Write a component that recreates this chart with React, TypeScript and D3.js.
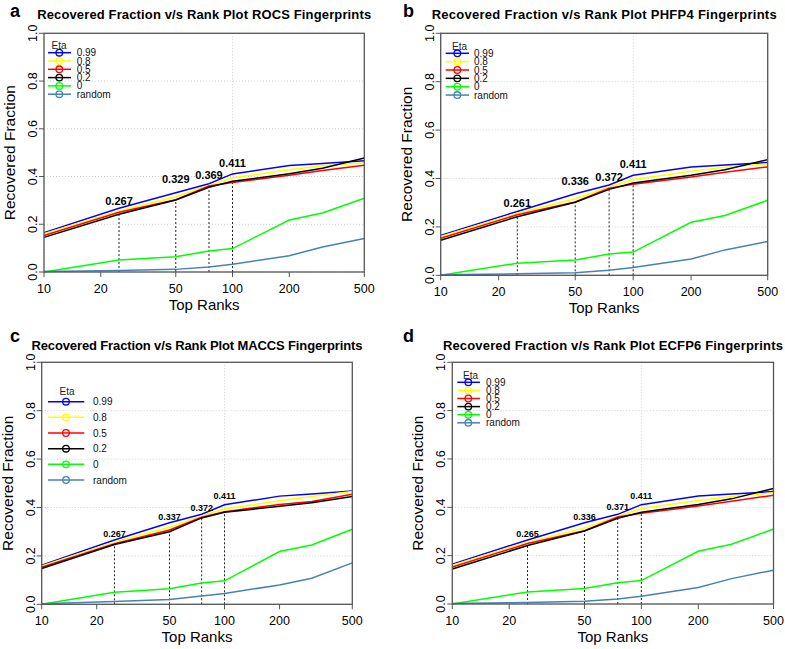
import React from "react";
import * as d3 from "d3";

const ranks = [10, 25, 50, 75, 100, 200, 300, 500];
const etaLabels = ["0.99", "0.8", "0.5", "0.2", "0", "random"];
const etaColors = ["#0000FF", "#FFFF00", "#FF0000", "#000000", "#00FF00", "#4682B4"];
const xTicks = [10, 20, 50, 100, 200, 500];
const yTicks = [0, 0.2, 0.4, 0.6, 0.8, 1.0];
const xGrid = [10, 100];
const markRanks = [25, 50, 75, 100];

// ROCS
const rocsSeries = [
  [0.165, 0.267, 0.332, 0.37, 0.411, 0.446, 0.455, 0.466],
  [0.16, 0.256, 0.315, 0.363, 0.395, 0.428, 0.445, 0.458],
  [0.153, 0.25, 0.303, 0.36, 0.375, 0.405, 0.425, 0.447],
  [0.145, 0.242, 0.302, 0.355, 0.38, 0.412, 0.435, 0.478],
  [0.0, 0.05, 0.064, 0.088, 0.098, 0.218, 0.247, 0.309],
  [0.002, 0.006, 0.011, 0.021, 0.032, 0.068, 0.105, 0.14],
];
const rocsMarks = ["0.267", "0.329", "0.369", "0.411"];
const rocsMarkY = [0.297, 0.387, 0.406, 0.456];

// PHFP4
const phfpSeries = [
  [0.165, 0.264, 0.337, 0.373, 0.413, 0.448, 0.456, 0.466],
  [0.16, 0.256, 0.316, 0.365, 0.396, 0.43, 0.447, 0.46],
  [0.153, 0.25, 0.303, 0.36, 0.376, 0.406, 0.426, 0.448],
  [0.145, 0.242, 0.302, 0.355, 0.381, 0.413, 0.436, 0.478],
  [0.0, 0.05, 0.063, 0.088, 0.096, 0.219, 0.247, 0.31],
  [0.002, 0.006, 0.011, 0.021, 0.032, 0.067, 0.105, 0.14],
];
const phfpMarks = ["0.261", "0.336", "0.372", "0.411"];
const phfpMarkY = [0.298, 0.39, 0.407, 0.46];

// MACCS
const maccsSeries = [
  [0.162, 0.266, 0.337, 0.372, 0.411, 0.447, 0.456, 0.468],
  [0.158, 0.258, 0.318, 0.365, 0.395, 0.428, 0.445, 0.466],
  [0.153, 0.25, 0.307, 0.36, 0.383, 0.412, 0.425, 0.455],
  [0.148, 0.247, 0.3, 0.357, 0.38, 0.405, 0.42, 0.445],
  [0.0, 0.05, 0.064, 0.088, 0.097, 0.218, 0.245, 0.31],
  [0.002, 0.012, 0.02, 0.034, 0.045, 0.08, 0.108, 0.171],
];
const maccsMarks = ["0.267", "0.337", "0.372", "0.411"];
const maccsMarkY = [0.29, 0.36, 0.4, 0.447];

// ECFP6
const ecfpSeries = [
  [0.165, 0.265, 0.336, 0.371, 0.411, 0.447, 0.455, 0.465],
  [0.16, 0.256, 0.315, 0.363, 0.395, 0.428, 0.445, 0.46],
  [0.153, 0.25, 0.303, 0.36, 0.375, 0.405, 0.425, 0.45],
  [0.145, 0.242, 0.302, 0.355, 0.38, 0.412, 0.435, 0.478],
  [0.0, 0.05, 0.064, 0.088, 0.097, 0.218, 0.247, 0.31],
  [0.002, 0.006, 0.011, 0.021, 0.032, 0.068, 0.105, 0.14],
];
const ecfpMarks = ["0.265", "0.336", "0.371", "0.411"];
const ecfpMarkY = [0.289, 0.36, 0.4, 0.447];

const FONT = "'Liberation Sans', Arial, Helvetica, sans-serif";

type Box = { l: number; r: number; t: number; b: number };
type Leg = { x0: number; x1: number; cx: number; tx: number; titleX: number; titleY: number; y0: number; step: number };

function Panel(props: {
  letter: string; title: string; titleW: number; series: number[][]; marks: string[]; markY: number[];
  box: Box; leg: Leg; markFont: number; titleY: number; letterX: number; letterY: number;
}) {
  const { letter, title, titleW, series, marks, markY, box, leg, markFont, titleY, letterX, letterY } = props;
  const x = d3.scaleLog().domain([10, 500]).range([box.l, box.r]);
  const y = d3.scaleLinear().domain([0, 1]).range([box.b, box.t]);
  const line = d3.line<number>().x((_, i) => x(ranks[i])).y((v) => y(v));
  const blackIdx = 3;
  const cxm = (box.l + box.r) / 2;
  const cym = (box.t + box.b) / 2;
  return (
    <g fontFamily={FONT}>
      <text x={letterX} y={letterY} fontSize={18} fontWeight="bold">{letter}</text>
      <text x={cxm} y={titleY} fontSize={13} fontWeight="bold" textAnchor="middle"
        textLength={titleW} lengthAdjust="spacing">{title}</text>
      {yTicks.map((t) => (
        <line key={"gy" + t} x1={box.l} x2={box.r} y1={y(t)} y2={y(t)} stroke="#cfcfcf" strokeDasharray="1,2" />
      ))}
      {xGrid.map((t) => (
        <line key={"gx" + t} x1={x(t)} x2={x(t)} y1={box.t} y2={box.b} stroke="#cfcfcf" strokeDasharray="1,2" />
      ))}
      {markRanks.map((r) => {
        const idx = ranks.indexOf(r);
        return (
          <line key={"d" + r} x1={x(r)} x2={x(r)} y1={y(0)} y2={y(series[blackIdx][idx])} stroke="#222" strokeWidth={1} strokeDasharray="2,2" />
        );
      })}
      {series.map((s, i) => (
        <path key={"s" + i} d={line(s) || ""} fill="none" stroke={etaColors[i]} strokeWidth={1.5} />
      ))}
      {marks.map((m, i) => (
        <text key={"m" + i} x={x(markRanks[i])} y={y(markY[i])} dy="0.35em" fontSize={markFont} fontWeight="bold" textAnchor="middle">{m}</text>
      ))}
      <rect x={box.l} y={box.t} width={box.r - box.l} height={box.b - box.t} fill="none" stroke="#555" strokeWidth={1.3} />
      {xTicks.map((t) => (
        <g key={"xt" + t}>
          <line x1={x(t)} x2={x(t)} y1={box.b} y2={box.b + 5} stroke="#555" />
          <text x={x(t)} y={box.b + 21} fontSize={12.5} textAnchor="middle">{t}</text>
        </g>
      ))}
      {yTicks.map((t) => (
        <g key={"yt" + t}>
          <line x1={box.l - 5} x2={box.l} y1={y(t)} y2={y(t)} stroke="#555" />
          <text transform={`translate(${box.l - 7},${y(t)}) rotate(-90)`} fontSize={12.5} textAnchor="middle">{t.toFixed(1)}</text>
        </g>
      ))}
      <text x={cxm} y={box.b + 38} fontSize={15} textAnchor="middle">Top Ranks</text>
      <text transform={`translate(${box.l - 29},${cym}) rotate(-90)`} fontSize={15.5} textAnchor="middle">Recovered Fraction</text>
      <text x={leg.titleX} y={leg.titleY} dy="0.35em" fontSize={10} textAnchor="middle" fill="#222">Eta</text>
      {etaLabels.map((lab, i) => {
        const yy = leg.y0 + i * leg.step;
        return (
          <g key={"lg" + i}>
            <line x1={leg.x0} x2={leg.x1} y1={yy} y2={yy} stroke={etaColors[i]} strokeWidth={1.5} />
            <circle cx={leg.cx} cy={yy} r={3.3} fill="none" stroke={etaColors[i]} strokeWidth={1.3} />
            <text x={leg.tx} y={yy} dy="0.35em" fontSize={10} fill="#111">{lab}</text>
          </g>
        );
      })}
    </g>
  );
}

export default function App() {
  return (
    <svg width={785} height={649} style={{ display: "block", position: "absolute", left: 0, top: 0, background: "#fff" }}>
      <rect x={0} y={0} width={785} height={649} fill="#fff" />
      <Panel letter="a" title="Recovered Fraction v/s Rank Plot ROCS Fingerprints" titleW={334} series={rocsSeries}
        marks={rocsMarks} markY={rocsMarkY} markFont={11}
        box={{ l: 44, r: 364.3, t: 33.3, b: 272 }}
        leg={{ x0: 48, x1: 71, cx: 59.3, tx: 76.7, titleX: 59, titleY: 45.5, y0: 52.7, step: 8.3 }}
        titleY={19} letterX={10} letterY={17.3} />
      <Panel letter="b" title="Recovered Fraction v/s Rank Plot PHFP4 Fingerprints" titleW={345} series={phfpSeries}
        marks={phfpMarks} markY={phfpMarkY} markFont={11}
        box={{ l: 440.7, r: 767.7, t: 33.3, b: 275.3 }}
        leg={{ x0: 445.7, x1: 469, cx: 457.3, tx: 474, titleX: 459.5, titleY: 46.7, y0: 53.3, step: 8.35 }}
        titleY={19} letterX={403} letterY={17.3} />
      <Panel letter="c" title="Recovered Fraction v/s Rank Plot MACCS Fingerprints" titleW={331} series={maccsSeries}
        marks={maccsMarks} markY={maccsMarkY} markFont={9}
        box={{ l: 41.7, r: 352.3, t: 362.3, b: 604.3 }}
        leg={{ x0: 48, x1: 84.3, cx: 66, tx: 93, titleX: 67, titleY: 391, y0: 401.7, step: 15.66 }}
        titleY={350} letterX={10} letterY={342.3} />
      <Panel letter="d" title="Recovered Fraction v/s Rank Plot ECFP6 Fingerprints" titleW={340} series={ecfpSeries}
        marks={ecfpMarks} markY={ecfpMarkY} markFont={9}
        box={{ l: 452.3, r: 773.5, t: 362.3, b: 604 }}
        leg={{ x0: 457.3, x1: 480, cx: 468.3, tx: 486, titleX: 470.5, titleY: 375.5, y0: 382.3, step: 8.1 }}
        titleY={350} letterX={403} letterY={342} />
    </svg>
  );
}
